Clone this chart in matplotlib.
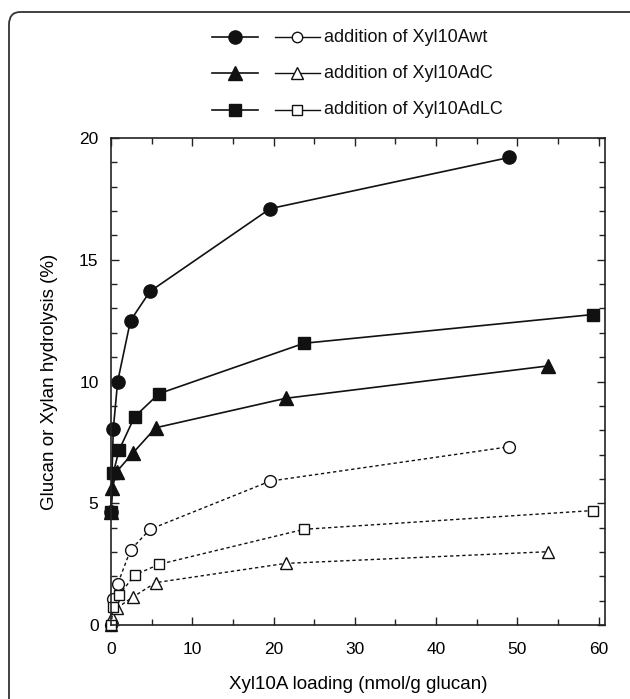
import numpy as np
import matplotlib
matplotlib.use("Agg")
import matplotlib.pyplot as plt
from matplotlib.lines import Line2D
from matplotlib.patches import FancyBboxPatch
from matplotlib.ticker import MultipleLocator

plt.rcParams['font.family'] = ['Liberation Sans', 'DejaVu Sans']

# enzyme loading (nmol/g glucan) per variant
x_wt = [0, 0.28, 0.82, 2.4, 4.8, 19.6, 49.0]
x_dc = [0, 0.16, 0.7, 2.74, 5.5, 21.5, 53.8]
x_dlc = [0, 0.28, 1.0, 2.9, 5.9, 23.75, 59.3]

# glucan hydrolysis (%) - filled symbols
glc_wt = [4.65, 8.04, 10.0, 12.5, 13.7, 17.1, 19.2]
glc_dc = [4.65, 5.64, 6.3, 7.08, 8.1, 9.31, 10.64]
glc_dlc = [4.65, 6.25, 7.19, 8.55, 9.5, 11.57, 12.75]

# xylan hydrolysis (%) - open symbols
xyl_wt = [0, 1.05, 1.68, 3.08, 3.93, 5.91, 7.32]
xyl_dc = [0, 0.34, 0.69, 1.16, 1.74, 2.53, 3.01]
xyl_dlc = [0, 0.73, 1.23, 2.05, 2.49, 3.93, 4.7]

labels = ['addition of Xyl10Awt', 'addition of Xyl10AdC', 'addition of Xyl10AdLC']
markers = ['o', '^', 's']
msizes = [9.5, 10, 8.5]

W, H = 630, 699
fig = plt.figure(figsize=(W / 100, H / 100), dpi=100)

# rounded frame (open at bottom)
frame = FancyBboxPatch((9 / W, -0.05), 1.2, (H - 12) / H + 0.05,
                       boxstyle="round,pad=0,rounding_size=0.018",
                       transform=fig.transFigure, fill=False,
                       edgecolor='#333333', linewidth=1.3)
fig.add_artist(frame)

ax = fig.add_axes([111 / W, 74 / H, 494 / W, 487 / H])

xs = [x_wt, x_dc, x_dlc]
glc = [glc_wt, glc_dc, glc_dlc]
xyl = [xyl_wt, xyl_dc, xyl_dlc]

for x, y, m, ms in zip(xs, xyl, markers, msizes):
    ax.plot(x, y, color='#111111', linestyle=(0, (2.4, 2.0)), linewidth=1.0,
            marker=m, markersize=ms - 1, markerfacecolor='white',
            markeredgecolor='#111111', markeredgewidth=1.0, clip_on=False)
for x, y, m, ms in zip(xs, glc, markers, msizes):
    ax.plot(x, y, color='#111111', linestyle='-', linewidth=1.2,
            marker=m, markersize=ms, markerfacecolor='#111111',
            markeredgecolor='#111111', clip_on=False)

ax.set_xlim(0, 60.8)
ax.set_ylim(0, 20)
ax.xaxis.set_major_locator(MultipleLocator(10))
ax.xaxis.set_minor_locator(MultipleLocator(5))
ax.yaxis.set_major_locator(MultipleLocator(5))
ax.yaxis.set_minor_locator(MultipleLocator(1))
ax.tick_params(which='both', direction='in', top=True, right=True,
               width=1.0, color='#222222')
ax.tick_params(which='major', length=6, labelsize=12.5)
ax.tick_params(which='minor', length=4)
ax.tick_params(axis='x', which='major', pad=12)
ax.tick_params(axis='y', which='major', pad=9)
for s in ax.spines.values():
    s.set_linewidth(1.2)
    s.set_color('#222222')

ax.set_xlabel('Xyl10A loading (nmol/g glucan)', fontsize=13.5, labelpad=14)
ax.set_ylabel('Glucan or Xylan hydrolysis (%)', fontsize=13.5, labelpad=15)

# legend drawn by hand: filled sample, open sample, text
rows_y = [37, 73, 110]
for ry, m, ms, lab in zip(rows_y, markers, msizes, labels):
    yf = (H - ry) / H
    fig.add_artist(Line2D([212 / W, 258 / W], [yf, yf], color='#111111',
                          linewidth=1.2))
    fig.add_artist(Line2D([235 / W], [yf], marker=m, markersize=ms,
                          color='#111111', linestyle='none'))
    fig.add_artist(Line2D([275 / W, 320 / W], [yf, yf], color='#111111',
                          linewidth=1.0))
    fig.add_artist(Line2D([297 / W], [yf], marker=m, markersize=ms - 2,
                          markerfacecolor='white', markeredgecolor='#111111',
                          markeredgewidth=1.0, linestyle='none'))
    fig.text(324 / W, yf, lab, fontsize=13, va='center', ha='left',
             color='#111111')

fig.savefig('out.png', dpi=100)
